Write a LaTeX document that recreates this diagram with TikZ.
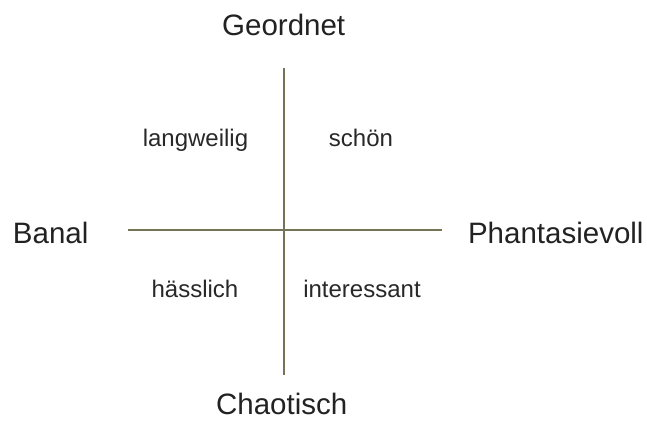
\documentclass[tikz,border=0pt]{standalone}
\usepackage{fontspec}
\setmainfont{Liberation Sans}
\begin{document}
\begin{tikzpicture}[x=1pt,y=-1pt,
  axis/.style={draw={rgb,255:red,118;green,116;blue,88}, line width=1.6pt},
  pole/.style={anchor=base, inner sep=0pt, text={rgb,255:red,34;green,34;blue,34},
    font=\fontsize{29.5}{34}\selectfont},
  quality/.style={anchor=base, inner sep=0pt, text={rgb,255:red,40;green,40;blue,40},
    font=\fontsize{24}{28}\selectfont}]
  \useasboundingbox (0,0) rectangle (647,421);
  % axes
  \coordinate (top) at (284,68);
  \coordinate (bottom) at (284,375);
  \coordinate (left) at (128,230);
  \coordinate (right) at (442,230);
  \draw[axis] (top) -- (bottom);
  \draw[axis] (left) -- (right);
  % poles
  \node[pole] (geordnet) at (283.7,35) {Geordnet};
  \node[pole] (banal) at (50.7,243) {Banal};
  \node[pole] (phantasie) at (555.8,243) {Phantasievoll};
  \node[pole] (chaotisch) at (281.7,414) {Chaotisch};
  % quadrants
  \node[quality] (langweilig) at (195.5,146.7) {langweilig};
  \node[quality] (schoen) at (361,146.7) {schön};
  \node[quality] (haesslich) at (195,297.3) {hässlich};
  \node[quality] (interessant) at (362,297.3) {interessant};
\end{tikzpicture}
\end{document}
